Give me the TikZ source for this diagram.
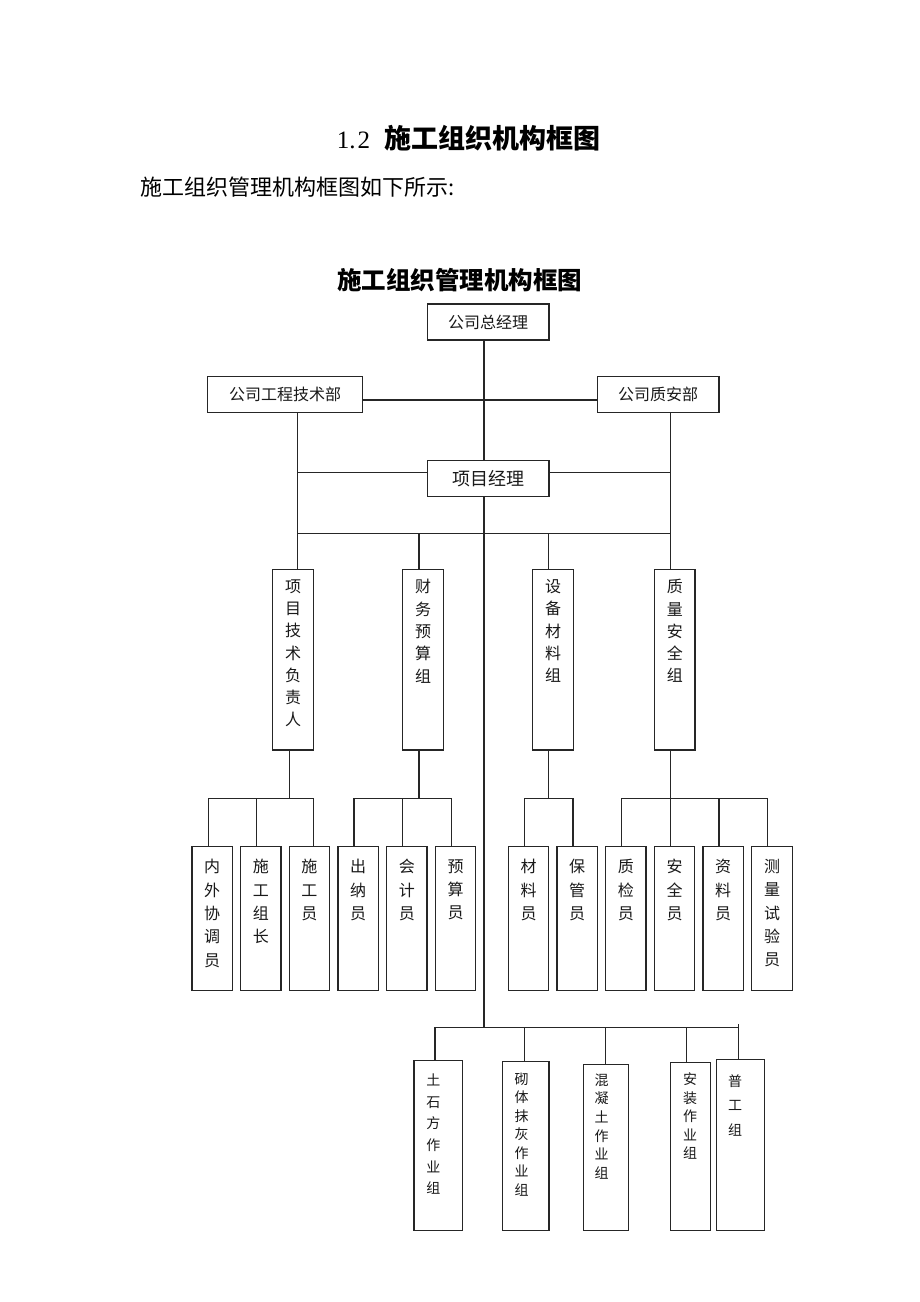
\documentclass[tikz,border=0pt]{standalone}
\usepackage{fontspec}
\setmainfont{Noto Sans CJK SC}
\newfontfamily\digf{Liberation Serif}
\tikzset{
  bx/.style={draw=black!85, line width=1.3pt, anchor=north west, inner sep=0pt, outer sep=0pt, text=black!90},
  ln/.style={draw=black!85, line width=1.2pt},
  vt/.style={align=center, inner sep=0pt, anchor=north, text=black!90},
}
\newcommand\bx[6]{\node[bx, minimum width={#4-#2}, minimum height={#5-#3}] (#1) at (#2,#3) {#6};}
\begin{document}
\begin{tikzpicture}[x=1pt, y=-1pt]
\useasboundingbox[fill=white] (0,0) rectangle (920,1302);

% titles
\node[anchor=west, inner sep=0pt, font=\fontsize{27}{30}\selectfont\bfseries] (title) at (336.7,138)
  {{\digf\fontsize{25}{28}\selectfont\mdseries 1.\kern2pt 2}\hspace{14pt}施工组织机构框图};
\node[anchor=west, inner sep=0pt, font=\fontsize{22}{26}\selectfont] (sub) at (140,187) {施工组织管理机构框图如下所示:};
\node[inner sep=0pt, font=\fontsize{24.5}{28}\selectfont\bfseries] (head) at (459.5,280) {施工组织管理机构框图};

% top boxes
\bx{gm}{427.3}{304}{549}{340}{\fontsize{16}{18}\selectfont 公司总经理}
\bx{eng}{207.7}{376.7}{362.3}{412.3}{\fontsize{16}{18}\selectfont 公司工程技术部}
\bx{qa}{597.3}{376.7}{719}{412.3}{\fontsize{16}{18}\selectfont 公司质安部}
\bx{pm}{427.3}{460.7}{549}{496.7}{\fontsize{18}{20}\selectfont 项目经理}

% level 2 boxes
\bx{b1}{272.7}{569.3}{313.7}{750}{}
\bx{b2}{402.7}{569.3}{443.3}{750}{}
\bx{b3}{532.7}{569.3}{573.3}{750}{}
\bx{b4}{654.7}{569.3}{695}{750}{}
\begin{scope}[font=\fontsize{16}{22.3}\selectfont]
\node[vt] (b1t) at (293.2,579.2) {项\\目\\技\\术\\负\\责\\人};
\node[vt] (b2t) at (423,579.2) {财\\务\\预\\算\\组};
\node[vt] (b3t) at (553,579.2) {设\\备\\材\\料\\组};
\node[vt] (b4t) at (674.9,579.2) {质\\量\\安\\全\\组};
\end{scope}

% level 3 boxes
\bx{c1}{192}{846.7}{232.3}{990.7}{}
\bx{c2}{240.7}{846.7}{281}{990.7}{}
\bx{c3}{289.3}{846.7}{329.3}{990.7}{}
\bx{c4}{338}{846.7}{378.3}{990.7}{}
\bx{c5}{386.7}{846.7}{427}{990.7}{}
\bx{c6}{435.3}{846.7}{475.7}{990.7}{}
\bx{c7}{508.3}{846.7}{548.7}{990.7}{}
\bx{c8}{557}{846.7}{597.3}{990.7}{}
\bx{c9}{605.7}{846.7}{646}{990.7}{}
\bx{c10}{654.3}{846.7}{694.7}{990.7}{}
\bx{c11}{703}{846.7}{743.3}{990.7}{}
\bx{c12}{751.7}{846.7}{792.3}{990.7}{}
\begin{scope}[font=\fontsize{16}{23.3}\selectfont]
\node[vt] (c1t) at (212.2,859.2) {内\\外\\协\\调\\员};
\node[vt] (c2t) at (260.9,859.2) {施\\工\\组\\长};
\node[vt] (c3t) at (309.3,859.2) {施\\工\\员};
\node[vt] (c4t) at (358.2,859.2) {出\\纳\\员};
\node[vt] (c5t) at (406.9,859.2) {会\\计\\员};
\node[vt] (c6t) at (455.5,859.2) {预\\算\\员};
\node[vt] (c7t) at (528.5,859.2) {材\\料\\员};
\node[vt] (c8t) at (577.2,859.2) {保\\管\\员};
\node[vt] (c9t) at (625.9,859.2) {质\\检\\员};
\node[vt] (c10t) at (674.5,859.2) {安\\全\\员};
\node[vt] (c11t) at (723.2,859.2) {资\\料\\员};
\node[vt] (c12t) at (772,859.2) {测\\量\\试\\验\\员};
\end{scope}

% bottom boxes
\bx{d1}{414}{1060.7}{462.3}{1230.7}{}
\bx{d2}{502.7}{1061.7}{549}{1230.7}{}
\bx{d3}{583.3}{1064.3}{628.3}{1230.7}{}
\bx{d4}{670.7}{1062.3}{710.7}{1230.7}{}
\bx{d5}{716.7}{1059.3}{764.3}{1230.7}{}
\node[vt, font=\fontsize{14}{21.7}\selectfont] (d1t) at (433.3,1073.4) {土\\石\\方\\作\\业\\组};
\node[vt, font=\fontsize{14}{18.5}\selectfont] (d2t) at (521.7,1072.7) {砌\\体\\抹\\灰\\作\\业\\组};
\node[vt, font=\fontsize{14}{18.7}\selectfont] (d3t) at (601.7,1073.4) {混\\凝\\土\\作\\业\\组};
\node[vt, font=\fontsize{14}{18.5}\selectfont] (d4t) at (690,1072.7) {安\\装\\作\\业\\组};
\node[vt, font=\fontsize{14}{24.7}\selectfont] (d5t) at (735,1074) {普\\工\\组};

% coordinates
\coordinate (cx) at (484,0);
\coordinate (lx) at (297.3,0);
\coordinate (rx) at (670.7,0);
\coordinate (h1) at (0,400);
\coordinate (h2L) at (297.3,472.7);
\coordinate (h2R) at (670.7,472.7);
\coordinate (h3L) at (297.3,533.3);
\coordinate (h3R) at (670.7,533.3);
\coordinate (k2) at (419,533.3);
\coordinate (k3) at (548.7,533.3);
\coordinate (j0) at (484,1027.3);

% top connectors
\draw[ln] (gm.south -| cx) -- (pm.north -| cx);
\draw[ln] (eng.east |- h1) -- (qa.west |- h1);
\draw[ln] (eng.south -| lx) -- (b1.north -| lx);
\draw[ln] (qa.south -| rx) -- (b4.north -| rx);
\draw[ln] (h2L) -- (pm.west |- h2L);
\draw[ln] (pm.east |- h2R) -- (h2R);
\draw[ln] (h3L) -- (h3R);
\draw[ln] (k2) -- (k2 |- b2.north);
\draw[ln] (k3) -- (k3 |- b3.north);
\draw[ln] (pm.south -| cx) -- (j0);

% level 2 -> level 3
\coordinate (g1) at (289.3,798.3);
\coordinate (g1a) at (208.3,798.3);
\coordinate (g1b) at (256.7,798.3);
\coordinate (g1c) at (313.3,798.3);
\draw[ln] (b1.south -| g1) -- (g1);
\draw[ln] (g1a) -- (g1c);
\draw[ln] (g1a) -- (g1a |- c1.north);
\draw[ln] (g1b) -- (g1b |- c2.north);
\draw[ln] (g1c) -- (g1c |- c3.north);

\coordinate (g2) at (419,798.3);
\coordinate (g2a) at (354,798.3);
\coordinate (g2b) at (402.7,798.3);
\coordinate (g2c) at (451.7,798.3);
\draw[ln] (b2.south -| g2) -- (g2);
\draw[ln] (g2a) -- (g2c);
\draw[ln] (g2a) -- (g2a |- c4.north);
\draw[ln] (g2b) -- (g2b |- c5.north);
\draw[ln] (g2c) -- (g2c |- c6.north);

\coordinate (g3) at (548.7,798.3);
\coordinate (g3a) at (524.7,798.3);
\coordinate (g3b) at (573,798.3);
\draw[ln] (b3.south -| g3) -- (g3);
\draw[ln] (g3a) -- (g3b);
\draw[ln] (g3a) -- (g3a |- c7.north);
\draw[ln] (g3b) -- (g3b |- c8.north);

\coordinate (g4) at (670.7,798.3);
\coordinate (g4a) at (621.7,798.3);
\coordinate (g4b) at (719,798.3);
\coordinate (g4c) at (767.7,798.3);
\draw[ln] (b4.south -| g4) -- (g4);
\draw[ln] (g4a) -- (g4c);
\draw[ln] (g4a) -- (g4a |- c9.north);
\draw[ln] (g4) -- (g4 |- c10.north);
\draw[ln] (g4b) -- (g4b |- c11.north);
\draw[ln] (g4c) -- (g4c |- c12.north);

% bottom spine
\coordinate (j1) at (435,1027.3);
\coordinate (j2) at (524.3,1027.3);
\coordinate (j3) at (605.7,1027.3);
\coordinate (j4) at (686.7,1027.3);
\coordinate (j5) at (738.3,1027.3);
\coordinate (j5t) at (738.3,1024);
\draw[ln] (j1) -- (j5);
\draw[ln] (j1) -- (j1 |- d1.north);
\draw[ln] (j2) -- (j2 |- d2.north);
\draw[ln] (j3) -- (j3 |- d3.north);
\draw[ln] (j4) -- (j4 |- d4.north);
\draw[ln] (j5t) -- (j5t |- d5.north);
\end{tikzpicture}
\end{document}
